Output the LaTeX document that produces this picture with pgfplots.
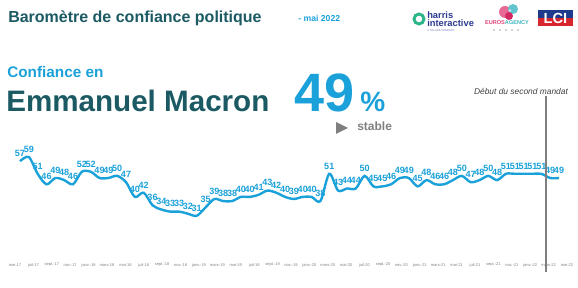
\documentclass[border=0pt]{standalone}
\usepackage{pgfplots}
\pgfplotsset{compat=1.18}
\usepackage{fontspec}
\setmainfont{Liberation Sans}
\newfontfamily\symfont{DejaVu Sans}
\definecolor{cy}{HTML}{1BA1D9}
\definecolor{dteal}{HTML}{1B5A63}
\definecolor{lgrey}{HTML}{7F7F7F}
\definecolor{hblue}{HTML}{2B3990}
\definecolor{hgreen}{HTML}{2DB58A}
\definecolor{epink}{HTML}{E0457B}
\definecolor{eteal}{HTML}{3DB5C0}
\definecolor{lciblue}{HTML}{1D3A8C}
\definecolor{lcired}{HTML}{D7262E}
\begin{document}
\begin{tikzpicture}
\begin{axis}[at={(0,0)}, anchor=south west, scale only axis,
  width=433.5pt, height=216pt,
  xmin=0, xmax=578, ymin=-3.38, ymax=133.76,
  axis line style={draw=none}, tick style={draw=none},
  ytick=\empty,
  xtick={15,33.4,...,568},
  xticklabels={mai-17,juil-17,sept.-17,nov.-17,janv.-18,mars-18,mai-18,juil-18,sept.-18,nov.-18,janv.-19,mars-19,mai-19,juil-19,sept.-19,nov.-19,janv.-20,mars-20,mai-20,juil-20,sept.-20,nov.-20,janv.-21,mars-21,mai-21,juil-21,sept.-21,nov.-21,janv.-22,mars-22,mai-22},
  xticklabel style={font=\fontsize{3}{3}\selectfont, text=lgrey, anchor=center, yshift=17.25pt},
  clip=false]
\addplot[cy, line width=1.8pt, smooth, tension=0.5,
  nodes near coords={\pgfmathprintnumber[assume math mode=true]{\pgfplotspointmeta}},
  every node near coord/.append style={font=\bfseries\fontsize{6.8}{7}\selectfont, text=cy, anchor=south, inner sep=0.5pt, yshift=2pt}]
  table[x expr=20+8.836*\coordindex, y index=0, header=false] {
57
59
51
46
49
48
46
52
52
49
49
50
47
40
42
36
34
33
33
32
31
35
39
38
38
40
40
41
43
42
40
39
40
40
38
51
43
44
44
50
45
45
46
49
49
45
48
46
46
48
50
47
48
50
48
51
51
51
51
51
49
49
};
\end{axis}
\begin{scope}[shift={(0pt,216pt)}, x=0.75pt, y=-0.75pt]
  % titles
  \node[anchor=base west, inner sep=0, text=dteal, font=\bfseries\fontsize{12}{14}\selectfont] at (8,23) {Baromètre de confiance politique};
  \node[anchor=base west, inner sep=0, text=cy, font=\bfseries\fontsize{6.5}{8}\selectfont] at (298,22) {- mai 2022};
  \node[anchor=base west, inner sep=0, text=cy, font=\bfseries\fontsize{11.5}{13}\selectfont] at (7,78) {Confiance en};
  \node[anchor=base west, inner sep=0, text=dteal, font=\bfseries\fontsize{22.2}{26}\selectfont] at (6,112) {Emmanuel Macron};
  \node[anchor=base west, inner sep=0, text=cy, font=\bfseries\fontsize{40.5}{44}\selectfont] at (294,112) {49};
  \node[anchor=base west, inner sep=0, text=cy, font=\bfseries\fontsize{21}{24}\selectfont] at (360,112) {\%};
  \fill[lgrey] (336,122) -- (348,128) -- (336,134) -- cycle;
  \node[anchor=base west, inner sep=0, text=lgrey, font=\bfseries\fontsize{9}{10}\selectfont] at (357,131) {stable};
  % second term marker
  \draw[lgrey, line width=1.1pt] (546,96) -- (546,272);
  \node[anchor=center, inner sep=0, text=black!75, font=\itshape\fontsize{6.3}{7}\selectfont] at (521,91) {Début du second mandat};
  % logos (approximate)
  \draw[hgreen, line width=2.2pt] (419,19) circle (5);
  \node[anchor=base west, inner sep=0, text=hblue, font=\bfseries\fontsize{7}{7}\selectfont] at (427,18.5) {harris};
  \node[anchor=base west, inner sep=0, text=hblue, font=\bfseries\fontsize{7}{7}\selectfont] at (427,27) {interactive};
  \node[anchor=base west, inner sep=0, text=hblue!70, font=\fontsize{2}{2}\selectfont] at (427,32) {A TOLUNA COMPANY};
  \fill[epink!80] (505,12) circle (6);
  \fill[eteal!80] (513,9) circle (5);
  \fill[epink!60!purple] (509,16) circle (4);
  \node[text=white, font=\fontsize{5}{5}\selectfont, inner sep=0] at (510,11) {$\star$};
  \node[anchor=base, inner sep=0, text=epink, font=\bfseries\fontsize{4.2}{5}\selectfont] at (507,25) {EUROS\textcolor{eteal}{AGENCY}};
  \foreach \xx in {494,500,506,512,518} {\fill[lgrey!70] (\xx,30) circle (0.9);}
  \fill[lciblue] (538,10) rectangle (573,26);
  \fill[lcired] (538,18) rectangle (573,26);
  \node[text=white, font=\bfseries\fontsize{11}{12}\selectfont, inner sep=0] at (555.5,18) {LCI};
\end{scope}
\pgfresetboundingbox
\path (0,0) rectangle (433.5pt,216pt);
\end{tikzpicture}
\end{document}
